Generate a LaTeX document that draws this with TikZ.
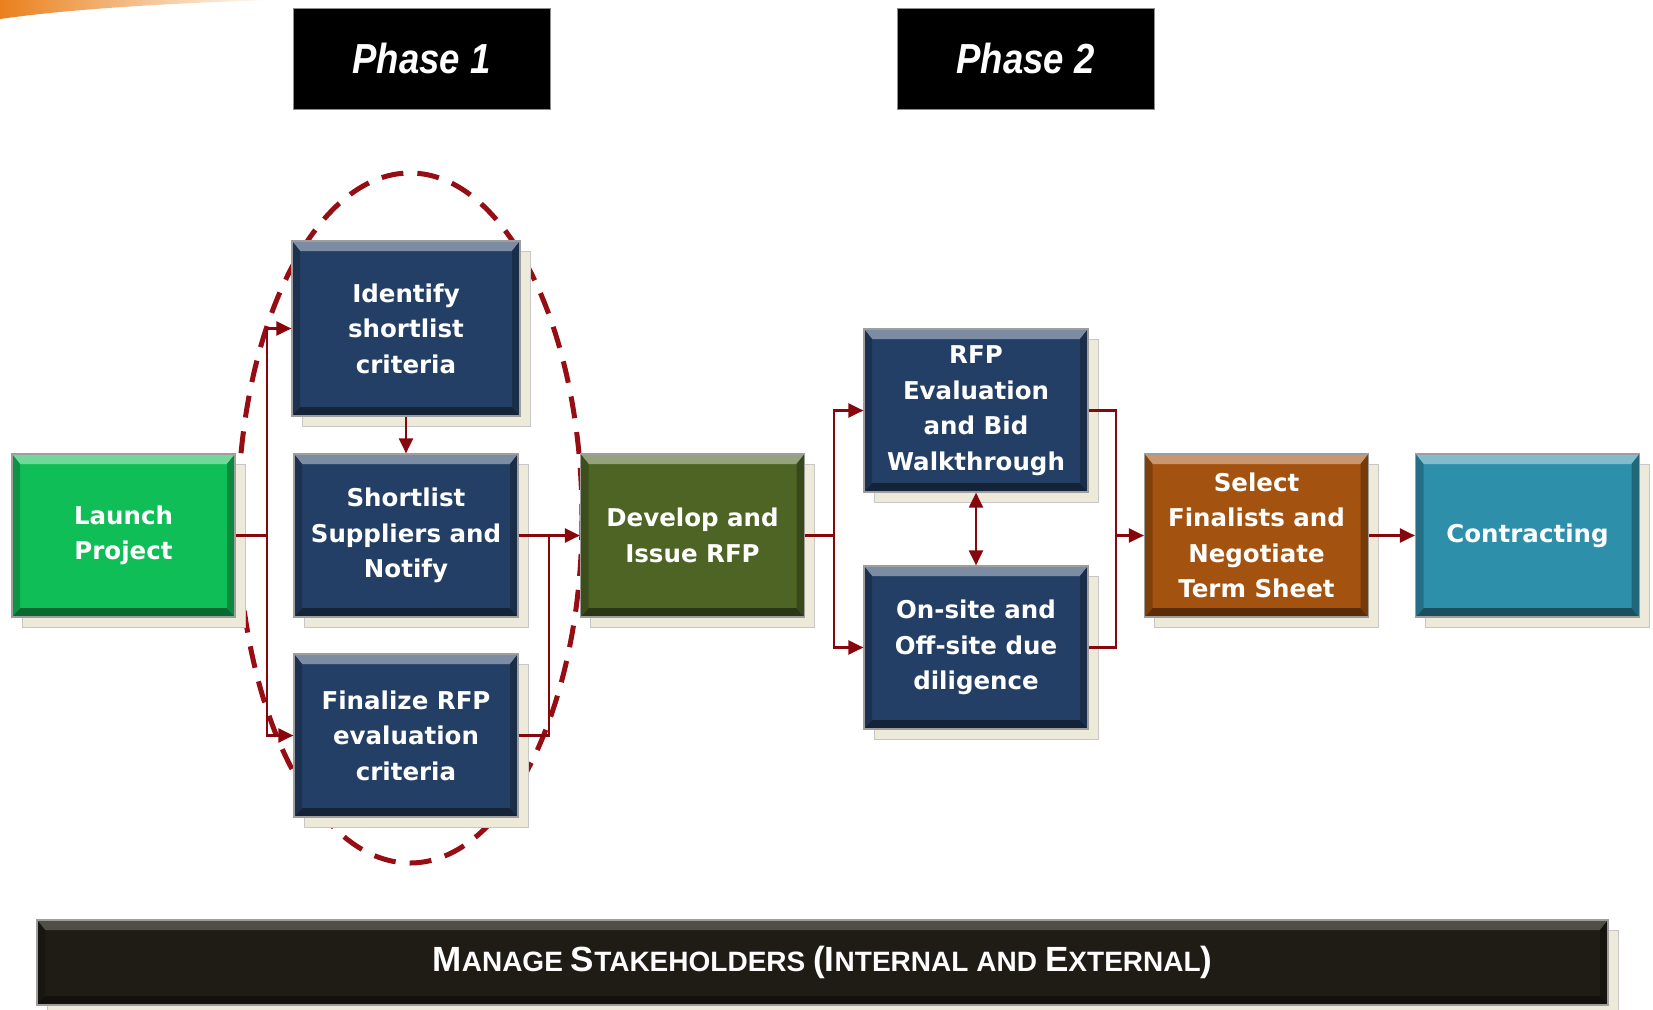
\documentclass[tikz,border=0pt]{standalone}
\usepackage{fontspec}
\usepackage{graphicx}
\setmainfont{DejaVu Sans}
\newfontfamily\headfont{Liberation Sans}
\usetikzlibrary{arrows.meta,shadows,calc}

\definecolor{launchgreen}{RGB}{16,190,87}
\definecolor{stepblue}{RGB}{36,63,102}
\definecolor{olivestep}{RGB}{78,100,37}
\definecolor{rustorange}{RGB}{164,82,15}
\definecolor{tealstep}{RGB}{46,143,170}
\definecolor{barblack}{RGB}{30,28,20}
\definecolor{linkred}{RGB}{135,8,12}
\definecolor{ringred}{RGB}{150,14,20}
\definecolor{shadowbeige}{RGB}{238,234,218}
\definecolor{swoosh}{RGB}{234,128,28}

% small-caps word: large initial, smaller rest
\newcommand\capword[2]{{\fontsize{35}{35}\selectfont #1}{\fontsize{28}{28}\selectfont #2}}
\newcommand\capgap{\hspace{8pt}}

\tikzset{
  bevel light/.store in=\bevellight, bevel light=60,
  bevel dark/.store in=\beveldark, bevel dark=55,
  bevelbox/.style={rectangle, fill=#1, draw=black!38, line width=1.2pt,
    minimum width=224pt, minimum height=163pt, inner sep=0pt,
    text=white, align=center,
    font=\fontsize{24.5}{35.5}\selectfont\bfseries,
    drop shadow={shadow xshift=10pt, shadow yshift=-10pt,
      fill=shadowbeige, draw=black!22, line width=1pt, opacity=1},
    path picture={
      % lit top edge
      \fill[#1!\bevellight!white]
        (path picture bounding box.north west) -- (path picture bounding box.north east)
        -- ([shift={(-8pt,-10pt)}]path picture bounding box.north east)
        -- ([shift={(8pt,-10pt)}]path picture bounding box.north west) -- cycle;
      % shaded bottom edge
      \fill[#1!\beveldark!black]
        (path picture bounding box.south west) -- (path picture bounding box.south east)
        -- ([shift={(-8pt,9pt)}]path picture bounding box.south east)
        -- ([shift={(8pt,9pt)}]path picture bounding box.south west) -- cycle;
      % side edges
      \fill[#1!78!black]
        (path picture bounding box.north west) -- ([shift={(8pt,-10pt)}]path picture bounding box.north west)
        -- ([shift={(8pt,9pt)}]path picture bounding box.south west)
        -- (path picture bounding box.south west) -- cycle;
      \fill[#1!72!black]
        (path picture bounding box.north east) -- ([shift={(-8pt,-10pt)}]path picture bounding box.north east)
        -- ([shift={(-8pt,9pt)}]path picture bounding box.south east)
        -- (path picture bounding box.south east) -- cycle;
    }},
  phasebox/.style={rectangle, fill=black, draw=black!45, line width=1pt,
    minimum width=257pt, minimum height=101pt, inner sep=0pt, text=white,
    font=\headfont\bfseries\itshape\fontsize{42}{42}\selectfont},
  link/.style={draw=linkred, line width=2.2pt},
  >={Triangle[length=15pt,width=14pt]}
}

\begin{document}
\begin{tikzpicture}[x=1pt,y=-1pt]
\useasboundingbox (0,0) rectangle (1653,1009);

% orange corner swoosh
\shade[left color=swoosh, middle color=swoosh!85, right color=white]
  (0,0) -- (275,0) .. controls (170,3) and (70,9) .. (0,19) -- cycle;

% phase headers
\node[phasebox] (phase1) at (421.5,58.5) {\scalebox{0.87}[1]{Phase 1}};
\node[phasebox] (phase2) at (1025.5,58.5) {\scalebox{0.87}[1]{Phase 2}};

% dashed ring around the first phase
\draw[ringred, line width=5pt, dash pattern=on 22pt off 14pt]
  (410,518) ellipse [x radius=172, y radius=345];

% process steps
\node[bevelbox=launchgreen, minimum width=223pt] (launch) at (123.5,535.5) {Launch\\Project};
\node[bevelbox=stepblue, minimum width=228pt, minimum height=175pt] (identify) at (406,328.5) {Identify\\shortlist\\criteria};
\node[bevelbox=stepblue] (shortlist) at (406,535.5) {Shortlist\\Suppliers and\\Notify};
\node[bevelbox=stepblue] (finalize) at (406,735.5) {Finalize RFP\\evaluation\\criteria};
\node[bevelbox=olivestep] (develop) at (692.5,535.5) {Develop and\\Issue RFP};
\node[bevelbox=stepblue] (rfp) at (976,410.5) {RFP\\Evaluation\\and Bid\\Walkthrough};
\node[bevelbox=stepblue] (onsite) at (976,647.5) {On-site and\\Off-site due\\diligence};
\node[bevelbox=rustorange] (select) at (1256.5,535.5) {Select\\Finalists and\\Negotiate\\Term Sheet};
\node[bevelbox=tealstep] (contract) at (1527.5,535.5) {Contracting};

% stakeholder bar
\node[bevelbox=barblack, bevel light=78, bevel dark=60, minimum width=1571pt, minimum height=85pt,
  font=\headfont\bfseries] (bar) at (822.5,962.5)
  {\capword{M}{ANAGE}\capgap\capword{S}{TAKEHOLDERS}\capgap\capword{(I}{NTERNAL}\capgap\capword{}{AND}\capgap\capword{E}{XTERNAL}\capword{)}{}};

% connectors
\draw[link] (launch.east) -- ++(31,0) coordinate (fork1);
\draw[link,->] (fork1) |- (identify.west);
\draw[link,->] (fork1) |- (finalize.west);
\draw[link,->] (identify.south) -- (shortlist.north);
\draw[link,->] (shortlist.east) -- (develop.west);
\coordinate (join1) at ($(shortlist.east)!0.5!(develop.west)$);
\draw[link] (finalize.east) -| (join1);

\coordinate (fork2) at ($(develop.east)!0.5!(develop.east -| rfp.west)$);
\draw[link] (develop.east) -- (fork2);
\draw[link,->] (fork2) |- (rfp.west);
\draw[link,->] (fork2) |- (onsite.west);
\draw[link,<->] (rfp.south) -- (onsite.north);

\coordinate (join2) at ($(select.west)!0.5!(select.west -| rfp.east)$);
\draw[link] (rfp.east) -| (join2) -- (join2 |- onsite.east) -- (onsite.east);
\draw[link,->] (join2) -- (select.west);
\draw[link,->] (select.east) -- (contract.west);
\end{tikzpicture}
\end{document}
